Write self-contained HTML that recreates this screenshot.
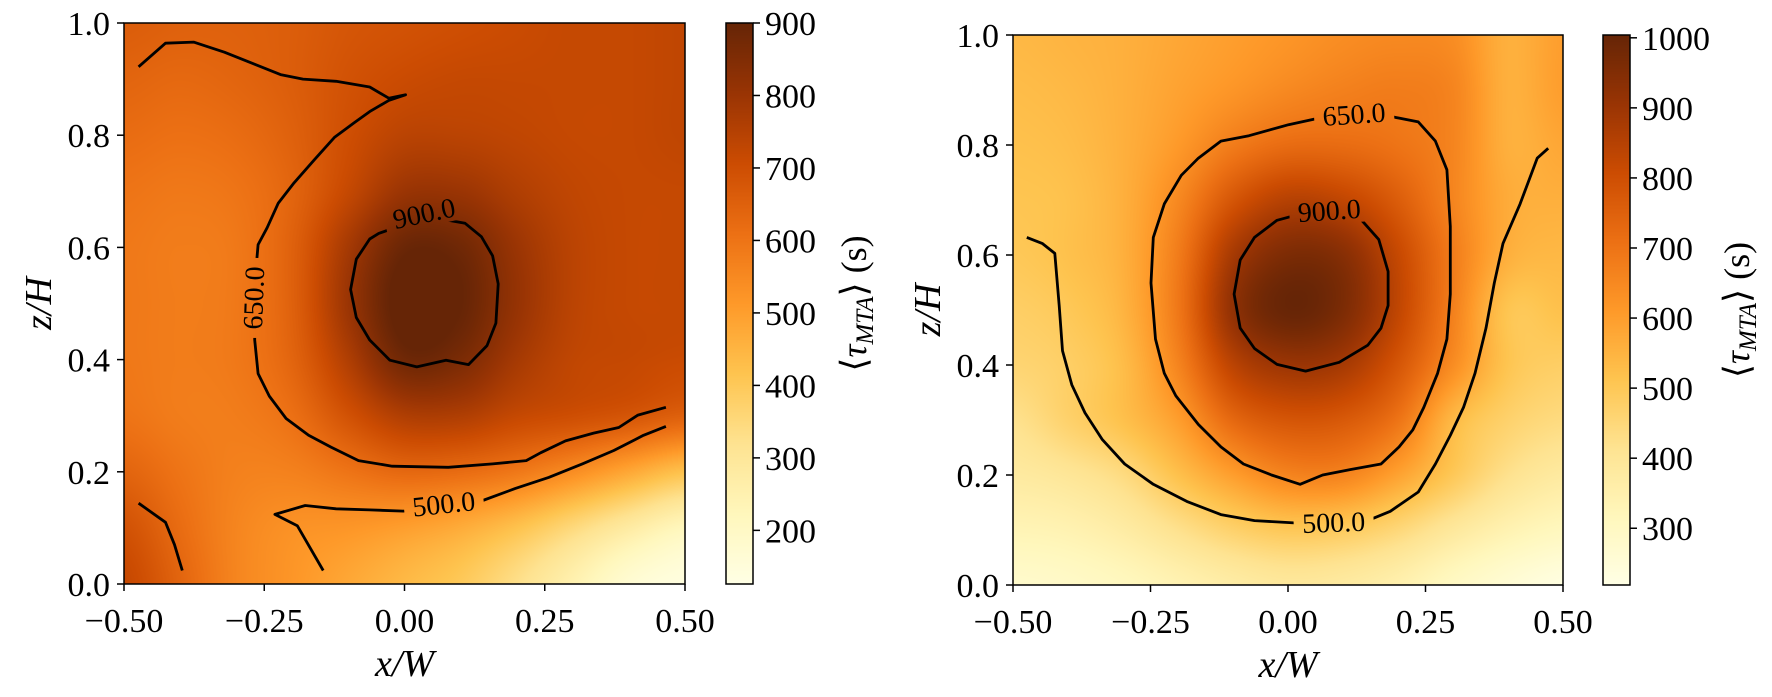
<!DOCTYPE html>
<html><head><meta charset="utf-8">
<style>
html,body{margin:0;padding:0;background:#fff;}
#wrap{position:relative;width:1772px;height:697px;overflow:hidden;}
canvas{position:absolute;}
svg{position:absolute;left:0;top:0;}
text{font-family:"Liberation Serif",serif;fill:#000;}
</style></head>
<body>
<div id="wrap">
<canvas id="fieldL"></canvas>
<canvas id="fieldR"></canvas>
<canvas id="cbL"></canvas>
<canvas id="cbR"></canvas>
<svg id="svg" width="1772" height="697"></svg>
</div>
<script>
// ---------- data ----------
const gridX = [-0.5,-0.4,-0.3,-0.2,-0.1,0.0,0.1,0.2,0.3,0.4,0.5];
const gridZ = [1.0,0.9,0.8,0.7,0.6,0.5,0.4,0.3,0.2,0.1,0.0];
const leftValues = [
[660,650,650,660,680,690,700,710,720,720,730],
[640,630,640,660,690,710,720,720,720,720,730],
[620,610,620,650,700,740,740,730,720,720,730],
[600,590,600,640,720,800,800,760,730,720,720],
[590,580,590,650,780,890,880,800,740,720,720],
[590,580,590,650,800,920,900,810,740,720,720],
[590,580,590,640,760,880,860,780,730,720,710],
[600,580,580,610,690,760,760,720,700,680,650],
[640,600,570,570,600,630,620,590,540,480,420],
[690,620,560,530,520,500,470,420,350,280,220],
[720,640,560,520,480,440,400,330,250,170,140]];
const rightValues = [
[540,550,560,580,600,620,640,650,640,560,600],
[530,540,560,590,620,650,670,680,660,560,600],
[520,530,560,610,680,720,720,700,660,560,580],
[510,520,560,650,780,850,830,760,660,570,560],
[500,520,560,680,880,960,940,820,680,560,540],
[480,500,550,690,920,1000,960,830,670,510,520],
[460,480,530,660,840,900,880,780,640,510,480],
[420,470,520,600,730,780,770,700,540,470,440],
[380,400,440,520,600,660,660,590,500,420,380],
[330,340,370,420,470,500,490,450,390,340,310],
[280,290,310,340,370,390,380,350,300,260,230]];
const xTicks = [-0.5,-0.25,0,0.25,0.5];
const xTickLabels = ["\u22120.50","\u22120.25","0.00","0.25","0.50"];
const zTicks = [0,0.2,0.4,0.6,0.8,1.0];
const zTickLabels = ["0.0","0.2","0.4","0.6","0.8","1.0"];
const cbRangeL = [126,900];
const cbTicksL = [200,300,400,500,600,700,800,900];
const cbRangeR = [219,1004];
const cbTicksR = [300,400,500,600,700,800,900,1000];
// contours [x, z]
const L650a = [[-0.474,0.922],[-0.426,0.964],[-0.376,0.966],[-0.321,0.948],[-0.221,0.908],[-0.181,0.900],[-0.122,0.896],[-0.062,0.886],[-0.028,0.866],[0.002,0.872],[-0.028,0.862],[-0.062,0.842],[-0.090,0.822],[-0.125,0.796],[-0.161,0.756],[-0.197,0.715],[-0.225,0.679],[-0.245,0.635],[-0.261,0.605],[-0.267,0.535],[-0.267,0.435],[-0.261,0.375],[-0.241,0.335],[-0.211,0.295],[-0.171,0.265],[-0.131,0.244],[-0.082,0.220],[-0.022,0.210],[0.078,0.208],[0.157,0.214],[0.217,0.220],[0.243,0.234],[0.287,0.255],[0.337,0.269],[0.382,0.279],[0.416,0.301],[0.466,0.315]];
const L650b = [[-0.474,0.144],[-0.426,0.110],[-0.410,0.070],[-0.396,0.024]];
const L500 = [[-0.145,0.024],[-0.191,0.104],[-0.231,0.124],[-0.177,0.140],[-0.122,0.134],[-0.062,0.132],[-0.002,0.130],[0.068,0.140],[0.137,0.148],[0.197,0.170],[0.257,0.190],[0.317,0.214],[0.373,0.238],[0.426,0.265],[0.466,0.281]];
const L900 = [[0.040,0.655],[0.108,0.643],[0.137,0.619],[0.157,0.585],[0.167,0.535],[0.163,0.465],[0.147,0.425],[0.114,0.391],[0.074,0.399],[0.022,0.387],[-0.026,0.399],[-0.062,0.435],[-0.086,0.475],[-0.096,0.525],[-0.086,0.579],[-0.062,0.615],[-0.046,0.625],[0.040,0.655]];
const R500 = [[-0.475,0.632],[-0.447,0.621],[-0.424,0.603],[-0.416,0.508],[-0.410,0.426],[-0.393,0.364],[-0.369,0.313],[-0.338,0.265],[-0.297,0.220],[-0.245,0.183],[-0.184,0.152],[-0.122,0.128],[-0.061,0.117],[0.011,0.113],[0.083,0.113],[0.145,0.117],[0.186,0.134],[0.237,0.169],[0.268,0.220],[0.295,0.272],[0.319,0.323],[0.340,0.385],[0.360,0.467],[0.375,0.549],[0.391,0.621],[0.422,0.693],[0.453,0.776],[0.473,0.794]];
const R650 = [[0.120,0.852],[0.186,0.852],[0.237,0.842],[0.268,0.807],[0.289,0.755],[0.295,0.652],[0.295,0.529],[0.289,0.447],[0.272,0.385],[0.247,0.323],[0.227,0.282],[0.202,0.251],[0.169,0.220],[0.114,0.210],[0.063,0.200],[0.022,0.183],[-0.030,0.200],[-0.081,0.220],[-0.122,0.251],[-0.163,0.292],[-0.204,0.344],[-0.225,0.385],[-0.241,0.447],[-0.249,0.549],[-0.245,0.632],[-0.225,0.693],[-0.194,0.745],[-0.163,0.776],[-0.122,0.807],[-0.071,0.817],[0.001,0.837],[0.052,0.848],[0.120,0.852]];
const R900 = [[0.075,0.675],[0.134,0.663],[0.165,0.628],[0.182,0.570],[0.182,0.508],[0.169,0.467],[0.145,0.436],[0.093,0.405],[0.032,0.389],[-0.020,0.401],[-0.061,0.430],[-0.087,0.467],[-0.098,0.529],[-0.087,0.591],[-0.061,0.632],[-0.020,0.663],[0.017,0.673],[0.075,0.675]];

// ---------- colormap YlOrBr ----------
const cmap = ["#ffffe5","#fff7bc","#fee391","#fec44f","#fe9929","#ec7014","#cc4c02","#993404","#662506"].map(h=>[parseInt(h.substr(1,2),16),parseInt(h.substr(3,2),16),parseInt(h.substr(5,2),16)]);
function color(t){
  t=Math.max(0,Math.min(1,t)); const s=t*(cmap.length-1); const i=Math.min(cmap.length-2,Math.floor(s)); const f=s-i;
  return [0,1,2].map(k=>Math.round(cmap[i][k]+(cmap[i+1][k]-cmap[i][k])*f));
}
function cr(p0,p1,p2,p3,t){return 0.5*((2*p1)+(-p0+p2)*t+(2*p0-5*p1+4*p2-p3)*t*t+(-p0+3*p1-3*p2+p3)*t*t*t);}
function sample(G,x,z){
  const n=gridX.length;
  const fx=(x-gridX[0])/(gridX[n-1]-gridX[0])*(n-1);
  const fr=(gridZ[0]-z)/(gridZ[0]-gridZ[n-1])*(gridZ.length-1);
  const ix=Math.min(n-2,Math.floor(fx)), iy=Math.min(gridZ.length-2,Math.floor(fr));
  const tx=fx-ix, ty=fr-iy;
  const g=(r,c)=>G[Math.max(0,Math.min(gridZ.length-1,r))][Math.max(0,Math.min(n-1,c))];
  const rows=[];
  for(let r=-1;r<=2;r++) rows.push(cr(g(iy+r,ix-1),g(iy+r,ix),g(iy+r,ix+1),g(iy+r,ix+2),tx));
  return cr(rows[0],rows[1],rows[2],rows[3],ty);
}

const svg=document.getElementById('svg');
const NS="http://www.w3.org/2000/svg";
function el(tag,attrs,parent){const e=document.createElementNS(NS,tag);for(const k in attrs)e.setAttribute(k,attrs[k]);(parent||svg).appendChild(e);return e;}

function panel(P){
  const sx=x=>P.x0+(x+0.5)*P.w, sz=z=>P.y0+(1-z)*P.h;
  const cv=document.getElementById(P.canvas);
  cv.width=P.w; cv.height=P.h; cv.style.left=P.x0+'px'; cv.style.top=P.y0+'px';
  const ctx=cv.getContext('2d'); const img=ctx.createImageData(P.w,P.h);
  for(let j=0;j<P.h;j++){const z=1-(j+0.5)/P.h;
    for(let i=0;i<P.w;i++){const x=-0.5+(i+0.5)/P.w;
      const v=sample(P.values,x,z); const c=color((v-P.range[0])/(P.range[1]-P.range[0]));
      const k=(j*P.w+i)*4; img.data[k]=c[0];img.data[k+1]=c[1];img.data[k+2]=c[2];img.data[k+3]=255;}}
  ctx.putImageData(img,0,0);
  const mid='m'+P.canvas;
  const mask=el('mask',{id:mid,maskUnits:'userSpaceOnUse',x:0,y:0,width:1772,height:697});
  el('rect',{x:0,y:0,width:1772,height:697,fill:'#fff'},mask);
  P.labels.forEach(L=>{const cx=sx(L.x),cy=sz(L.z);
    el('rect',{x:cx-40,y:cy-13,width:80,height:26,fill:'#000',transform:`rotate(${L.rot} ${cx} ${cy})`},mask);});
  const g=el('g',{mask:`url(#${mid})`});
  
  
  P.contours.forEach(C=>{
    const p=el('polyline',{points:C.pts.map(q=>sx(q[0]).toFixed(1)+','+sz(q[1]).toFixed(1)).join(' '),fill:'none',stroke:'#000','stroke-width':2.8,'stroke-linejoin':'round'},g);
    
    
  });
  P.labels.forEach(L=>{const cx=sx(L.x),cy=sz(L.z);
    const t=el('text',{x:cx,y:cy+9,'font-size':28,'text-anchor':'middle',transform:`rotate(${L.rot} ${cx} ${cy})`});
    t.textContent=L.t;
    
    
  });
  const fr=el('rect',{x:P.x0,y:P.y0,width:P.w,height:P.h,fill:'none',stroke:'#000','stroke-width':1.5});
  
  
  xTicks.forEach((v,i)=>{const X=sx(v);
    el('line',{x1:X,x2:X,y1:P.y0+P.h,y2:P.y0+P.h+7,stroke:'#000','stroke-width':1.5});
    const t=el('text',{x:X,y:P.y0+P.h+48,'font-size':34,'text-anchor':'middle'});t.textContent=xTickLabels[i];
    
    
  });
  zTicks.forEach((v,i)=>{const Y=sz(v);
    el('line',{x1:P.x0-7,x2:P.x0,y1:Y,y2:Y,stroke:'#000','stroke-width':1.5});
    const t=el('text',{x:P.x0-14,y:Y+12,'font-size':34,'text-anchor':'end'});t.textContent=zTickLabels[i];
    
    
  });
  const xl=el('text',{x:P.x0+P.w/2,y:P.y0+P.h+92,'font-size':38,'text-anchor':'middle','font-style':'italic'});
  xl.textContent='x/W';
  
  
  const yx=P.x0-85, yy=P.y0+P.h/2;
  const yl=el('text',{x:yx,y:yy+12,'font-size':38,'text-anchor':'middle','font-style':'italic',transform:`rotate(-90 ${yx} ${yy})`});
  yl.textContent='z/H';
  
  
  const cb=document.getElementById(P.cb); const cw=P.cbx1-P.cbx0;
  cb.width=cw; cb.height=P.h; cb.style.left=P.cbx0+'px'; cb.style.top=P.y0+'px';
  const c2=cb.getContext('2d');
  for(let j=0;j<P.h;j++){const c=color(1-(j+0.5)/P.h);c2.fillStyle=`rgb(${c[0]},${c[1]},${c[2]})`;c2.fillRect(0,j,cw,1);}
  el('rect',{x:P.cbx0,y:P.y0,width:cw,height:P.h,fill:'none',stroke:'#000','stroke-width':1.5});
  const sc=v=>P.y0+P.h*(1-(v-P.range[0])/(P.range[1]-P.range[0]));
  P.cbTicks.forEach(v=>{const Y=sc(v);
    el('line',{x1:P.cbx1,x2:P.cbx1+7,y1:Y,y2:Y,stroke:'#000','stroke-width':1.5});
    const t=el('text',{x:P.cbx1+12,y:Y+12,'font-size':34});t.textContent=String(v);
    
    
  });
  const lx=P.cblx, ly=P.y0+P.h/2;
  const cl=el('text',{x:lx,y:ly+12,'font-size':36,'text-anchor':'middle',transform:`rotate(-90 ${lx} ${ly})`});
  cl.innerHTML='\u27E8<tspan font-style="italic">\u03C4</tspan><tspan font-style="italic" font-size="25" dy="7">MTA</tspan><tspan dy="-7">\u27E9 (s)</tspan>';
  
  
}

panel({name:'left',canvas:'fieldL',cb:'cbL',x0:124,y0:23,w:561,h:561,values:leftValues,range:cbRangeL,cbTicks:cbTicksL,cbx0:726,cbx1:753,cblx:854,
  contours:[{name:'contour-650',pts:L650a},{name:'contour-650-corner',pts:L650b},{name:'contour-500',pts:L500},{name:'contour-900',pts:L900}],
  labels:[{t:'650.0',x:-0.268,z:0.51,rot:-88},{t:'900.0',x:0.035,z:0.66,rot:-12},{t:'500.0',x:0.07,z:0.142,rot:-6}]});
panel({name:'right',canvas:'fieldR',cb:'cbR',x0:1013,y0:35,w:550,h:550,values:rightValues,range:cbRangeR,cbTicks:cbTicksR,cbx0:1603,cbx1:1630,cblx:1737,
  contours:[{name:'contour-500',pts:R500},{name:'contour-650',pts:R650},{name:'contour-900',pts:R900}],
  labels:[{t:'650.0',x:0.12,z:0.855,rot:-4},{t:'900.0',x:0.075,z:0.68,rot:-4},{t:'500.0',x:0.083,z:0.113,rot:-2}]});
</script>
</body></html>
